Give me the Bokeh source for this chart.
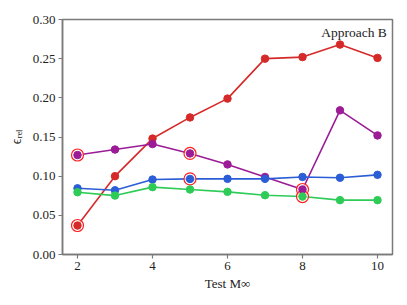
from bokeh.plotting import figure
from bokeh.models import Label, FixedTicker, NumeralTickFormatter, Range1d
from bokeh.embed import file_html
from bokeh.resources import INLINE

mach = [2, 3, 4, 5, 6, 7, 8, 9, 10]
red_vals = [0.037, 0.100, 0.148, 0.175, 0.199, 0.250, 0.252, 0.268, 0.251]
purple_vals = [0.127, 0.134, 0.141, 0.129, 0.115, 0.099, 0.083, 0.184, 0.152]
blue_vals = [0.0845, 0.082, 0.0957, 0.0965, 0.0966, 0.0966, 0.099, 0.098, 0.1017]
green_vals = [0.0795, 0.0752, 0.086, 0.083, 0.080, 0.0757, 0.074, 0.0694, 0.0694]

# highlighted (series, x) pairs
highlights = [("red", 2), ("purple", 2), ("purple", 5), ("blue", 5), ("purple", 8), ("green", 8)]

x_ticks = [2, 4, 6, 8, 10]
y_ticks = [0.0, 0.05, 0.10, 0.15, 0.20, 0.25, 0.30]

series = {
    "red": (red_vals, "#d62a2a"),
    "purple": (purple_vals, "#9b1c96"),
    "blue": (blue_vals, "#2b5ed6"),
    "green": (green_vals, "#2ecb57"),
}

FONT = "serif"
AX = "#7a7a7a"

p = figure(output_backend="svg", toolbar_location=None,
           frame_width=330, frame_height=235,
           min_border_left=62, min_border_right=8, min_border_top=19, min_border_bottom=40,
           x_range=Range1d(1.6, 10.4), y_range=Range1d(0.0, 0.30))
p.grid.visible = False
p.outline_line_color = AX
p.outline_line_width = 1.5
p.background_fill_color = "white"
p.border_fill_color = "white"

for ax in (p.xaxis[0], p.yaxis[0]):
    ax.axis_line_color = AX
    ax.axis_line_width = 1.5
    ax.major_tick_line_color = AX
    ax.major_tick_line_width = 1.2
    ax.major_tick_out = 4
    ax.major_tick_in = 0
    ax.minor_tick_line_color = None
    ax.major_label_text_font = FONT
    ax.major_label_text_font_size = "13px"
    ax.major_label_text_color = "#222222"
    ax.axis_label_text_font = FONT
    ax.axis_label_text_font_size = "13px"
    ax.axis_label_text_font_style = "normal"
    ax.axis_label_text_color = "#222222"
    ax.major_label_standoff = 3

p.xaxis.ticker = FixedTicker(ticks=x_ticks)
p.yaxis.ticker = FixedTicker(ticks=y_ticks)
p.yaxis.formatter = NumeralTickFormatter(format="0.00")
p.xaxis.axis_label = "Test M∞"
p.xaxis.axis_label_standoff = 3
p.yaxis.axis_label = "ϵᵣₑₗ"
p.yaxis.axis_label_standoff = 6
p.yaxis.axis_label_text_font_size = "14px"

order = ["red", "purple", "blue", "green"]
for name in order:
    vals, col = series[name]
    p.line(mach, vals, line_color=col, line_width=1.6)

# highlight rings
hx = [x for (_, x) in highlights]
hy = [series[n][0][mach.index(x)] for (n, x) in highlights]
p.scatter(hx, hy, size=12, marker="circle", fill_color="white", fill_alpha=0.7,
          line_color="#ff2020", line_width=1.2)

for name in order:
    vals, col = series[name]
    p.scatter(mach, vals, size=7.5, marker="circle", fill_color=col, line_color=col)

p.add_layout(Label(x=10.25, y=0.2834, text="Approach B", text_font=FONT,
                   text_font_size="13.5px", text_align="right", text_baseline="middle",
                   text_color="#222222"))

open("out.html", "w").write(file_html(p, INLINE))
